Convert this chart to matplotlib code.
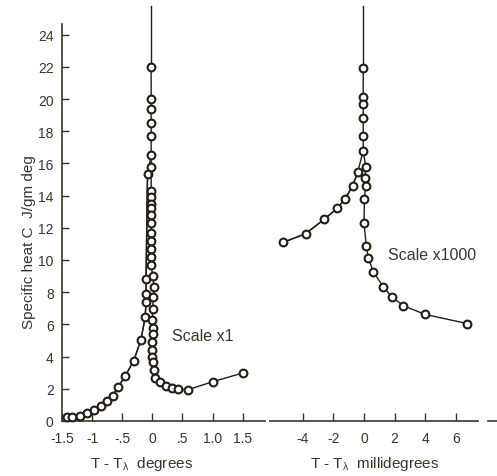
import matplotlib
matplotlib.use('Agg')
import matplotlib.pyplot as plt

plt.rcParams['font.family'] = ['Liberation Sans', 'DejaVu Sans']
plt.rcParams['mathtext.fontset'] = 'custom'
plt.rcParams['mathtext.rm'] = 'Liberation Sans'
plt.rcParams['mathtext.it'] = 'Liberation Sans'

# ---- data: left panel (degrees, scale x1) ----
left_below_x = [-1.41, -1.33, -1.20, -1.08, -0.97, -0.86, -0.76, -0.66, -0.57, -0.455,
                -0.31, -0.19, -0.12, -0.105, -0.105, -0.105, -0.08]
left_below_y = [0.23, 0.27, 0.29, 0.48, 0.68, 0.91, 1.26, 1.57, 2.09, 2.77,
                3.74, 5.03, 6.44, 7.4, 7.9, 8.8, 15.35]
left_above_x = [-0.02] * 18 + [0.005, 0.03, 0.015, 0.005, 0.0, 0.005, 0.005, 0.0, 0.0, 0.0,
                               0.005, 0.02, 0.05, 0.12, 0.23, 0.33, 0.42, 0.59, 1.0, 1.5]
left_above_y = [22.0, 20.0, 19.4, 18.5, 17.7, 16.5, 15.75, 14.3, 13.9, 13.5, 13.2, 12.8,
                12.3, 11.7, 11.2, 10.7, 10.2, 9.7, 9.0, 8.3, 7.7, 6.95, 6.3, 5.8, 5.4,
                4.9, 4.43, 4.0, 3.65, 3.19, 2.7, 2.4, 2.15, 2.03, 1.99, 1.94, 2.44, 2.98]

# ---- data: right panel (millidegrees, scale x1000) ----
right_below_x = [-5.27, -3.82, -2.61, -1.76, -1.24, -0.74, -0.41]
right_below_y = [11.1, 11.63, 12.52, 13.2, 13.8, 14.6, 15.45]
right_above_x = [-0.05, -0.05, -0.05, -0.05, -0.05, -0.05, 0.11, 0.07, 0.1, 0.03, 0.0, 0.15,
                 0.28, 0.61, 1.26, 1.81, 2.57, 4.0, 6.75]
right_above_y = [21.9, 20.15, 19.7, 18.8, 17.7, 16.8, 15.8, 15.1, 14.6, 13.8, 12.3, 10.9,
                 10.15, 9.27, 8.33, 7.72, 7.16, 6.62, 6.05]

spike_top = 25.8

left_ticks = [-1.5, -1.0, -0.5, 0.0, 0.5, 1.0, 1.5]
left_ticklabels = ['-1.5', '-1', '-.5', '0', '.5', '1.0', '1.5']
right_ticks = [-4, -2, 0, 2, 4, 6]
right_ticklabels = ['-4', '-2', '0', '2', '4', '6']
y_ticks = [0, 2, 4, 6, 8, 10, 12, 14, 16, 18, 20, 22, 24]

LINE = '#221e16'
TEXT = '#3a342a'
SPINE = '#3b3426'

W, H = 497, 477
fig = plt.figure(figsize=(W / 100, H / 100), dpi=100)


def rect(x0, x1, ytop, ybot):
    return [x0 / W, 1 - ybot / H, (x1 - x0) / W, (ybot - ytop) / H]


ax1 = fig.add_axes(rect(62, 265, 3.4, 422))
ax2 = fig.add_axes(rect(270, 497, 3.4, 422))

mk = dict(marker='o', markersize=5.6, markerfacecolor='white', markeredgecolor=LINE,
          markeredgewidth=1.5, color=LINE, lw=1.0, clip_on=False, zorder=3)


def draw(ax, bx, by, axx, ay):
    # joining line from below-branch to column
    ax.plot(bx + [axx[5]], by + [ay[5]], color=LINE, lw=1.0, zorder=2)
    ax.plot(bx, by, **mk)
    ax.plot(axx, ay, **mk)
    ax.plot([axx[0], axx[0]], [ay[0], spike_top], color=LINE, lw=1.0, zorder=2, clip_on=False)


draw(ax1, left_below_x, left_below_y, left_above_x, left_above_y)
draw(ax2, right_below_x, right_below_y, right_above_x, right_above_y)

for ax in (ax1, ax2):
    ax.set_ylim(0, 26)
    ax.set_facecolor('none')
    for s in ('top', 'right'):
        ax.spines[s].set_visible(False)
    ax.spines['bottom'].set_color(SPINE)
    ax.spines['bottom'].set_linewidth(1.2)
    ax.tick_params(axis='x', direction='in', length=5.5, width=1.0, color=SPINE,
                   labelsize=10, labelcolor=TEXT, pad=7)

ax1.set_xlim(-1.5, 1.87)
ax1.spines['bottom'].set_bounds(-1.5, 1.87)
ax1.spines['left'].set_bounds(0, 24.65)
ax1.spines['left'].set_color(SPINE)
ax1.spines['left'].set_linewidth(1.2)
ax1.set_xticks(left_ticks)
ax1.set_xticklabels(left_ticklabels)
ax1.set_yticks(y_ticks)
ax1.tick_params(axis='y', direction='in', length=5, width=1.0, color=SPINE,
                labelsize=10, labelcolor=TEXT, pad=6)

ax2.set_xlim(-6.14, 8.69)
ax2.spines['bottom'].set_bounds(-6.14, 7.45)
ax2.spines['left'].set_visible(False)
ax2.set_yticks([])
ax2.set_xticks(right_ticks)
ax2.set_xticklabels(right_ticklabels)
ax2.plot([8.1, 8.7], [0, 0], color=SPINE, lw=1.2, clip_on=False)

ax1.text(0.33, 5.28, 'Scale x1', fontsize=11.5, color=TEXT, va='center', ha='left')
ax2.text(1.57, 10.37, 'Scale x1000', fontsize=11.5, color=TEXT, va='center', ha='left')

fig.text(29 / W, 1 - 242 / H, 'Specific heat C  J/gm deg', rotation=90,
         ha='center', va='center', fontsize=11, color=TEXT)
fig.text(142 / W, 1 - 468 / H, r'T - T$_{\lambda}$  degrees', ha='center',
         va='baseline', fontsize=11, color=TEXT)
fig.text(375 / W, 1 - 468 / H, r'T - T$_{\lambda}$  millidegrees', ha='center',
         va='baseline', fontsize=11, color=TEXT)

fig.savefig('out.png', dpi=100, facecolor='white')
